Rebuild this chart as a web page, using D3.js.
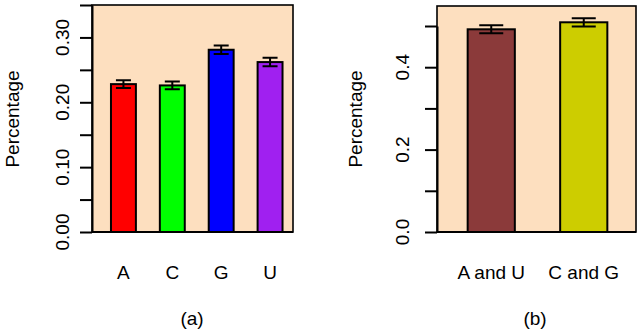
<!DOCTYPE html>
<html><head><meta charset="utf-8">
<script src="https://cdn.jsdelivr.net/npm/d3@7"></script>
<style>body{margin:0;background:#fff}svg{display:block}text{font-family:"Liberation Sans",Arial,sans-serif;fill:#000}</style>
</head><body>
<script>
// Panel (a)
const catsA = ["A","C","G","U"];
const valsA = [0.228, 0.226, 0.281, 0.262];
const errA = [0.006, 0.006, 0.0066, 0.0066];
const colorsA = ["#ff0000","#00ff00","#0000ff","#a020f0"];
const ticksA = [0,0.05,0.10,0.15,0.20,0.25,0.30,0.35];
const labelValsA = [0,0.10,0.20,0.30];
const labelsA = ["0.00","0.10","0.20","0.30"];
// Panel (b)
const catsB = ["A and U","C and G"];
const valsB = [0.492, 0.509];
const errB = [0.0097, 0.010];
const colorsB = ["#8b3a3a","#cdcd00"];
const ticksB = [0,0.1,0.2,0.3,0.4,0.5];
const labelValsB = [0,0.2,0.4];
const labelsB = ["0.0","0.2","0.4"];

const W=642,H=335;
const svg=d3.select("body").append("svg").attr("width",W).attr("height",H);
const FS=19;

function panel(o){
  const g=svg.append("g");
  const y=d3.scaleLinear().domain(o.domain).range([o.bottom,o.yTop]);
  const x=d3.scaleBand().domain(o.cats).range(o.bandRange).paddingInner(0.49).paddingOuter(0.245);
  g.append("rect").attr("x",o.box[0]).attr("y",o.boxTop).attr("width",o.box[1]-o.box[0]).attr("height",o.bottom-o.boxTop)
    .attr("fill","#fddfbf").attr("stroke","#000").attr("stroke-width",1.6);
  g.selectAll("rect.bar").data(o.cats).join("rect").attr("class","bar")
    .attr("x",d=>x(d)).attr("width",x.bandwidth())
    .attr("y",(d,i)=>y(o.vals[i])).attr("height",(d,i)=>y(0)-y(o.vals[i]))
    .attr("fill",(d,i)=>o.colors[i]).attr("stroke","#000").attr("stroke-width",2);
  o.cats.forEach((c,i)=>{
    const cx=x(c)+x.bandwidth()/2, hi=y(o.vals[i]+o.err[i]), lo=y(o.vals[i]-o.err[i]), hw=o.cap/2;
    g.append("path").attr("d",`M${cx},${hi}V${lo}M${cx-hw},${hi}H${cx+hw}M${cx-hw},${lo}H${cx+hw}`)
      .attr("stroke","#000").attr("stroke-width",2).attr("fill","none");
  });
  const ax=g.append("g").attr("transform",`translate(${o.box[0]},0)`)
    .call(d3.axisLeft(y).tickValues(o.ticks).tickSize(12).tickSizeOuter(0).tickFormat(""));
  ax.selectAll("path,line").attr("stroke","#000").attr("stroke-width",2);
  g.append("line").attr("x1",o.box[0]).attr("x2",o.box[1]).attr("y1",o.bottom).attr("y2",o.bottom).attr("stroke","#000").attr("stroke-width",2.2);
  g.selectAll("text.tl").data(o.labelVals).join("text").attr("class","tl")
    .attr("transform",d=>`translate(${o.tickLabelX},${y(d)}) rotate(-90)`)
    .attr("text-anchor","middle").attr("dy","0.36em").attr("font-size",FS).text((d,i)=>o.labels[i]);
  g.append("text").attr("transform",`translate(${o.titleX},119) rotate(-90)`).attr("text-anchor","middle")
    .attr("font-size",FS).text("Percentage");
  g.selectAll("text.xl").data(o.cats).join("text").attr("class","xl")
    .attr("x",d=>x(d)+x.bandwidth()/2).attr("y",279).attr("text-anchor","middle").attr("font-size",FS).text(d=>d);
  g.append("text").attr("x",o.capX).attr("y",325).attr("text-anchor","middle").attr("font-size",FS).text(o.caption);
}

panel({cats:catsA,vals:valsA,err:errA,colors:colorsA,ticks:ticksA,labelVals:labelValsA,labels:labelsA,
  domain:[0,0.35],bottom:232,yTop:5,boxTop:5,box:[92,293],bandRange:[99,294.5],cap:15,
  tickLabelX:62,titleX:19,capX:192,caption:"(a)"});
panel({cats:catsB,vals:valsB,err:errB,colors:colorsB,ticks:ticksB,labelVals:labelValsB,labels:labelsB,
  domain:[0,0.5],bottom:232,yTop:26,boxTop:6,box:[437,636],bandRange:[445,630],cap:24,
  tickLabelX:402,titleX:362,capX:535,caption:"(b)"});
</script>
</body></html>
